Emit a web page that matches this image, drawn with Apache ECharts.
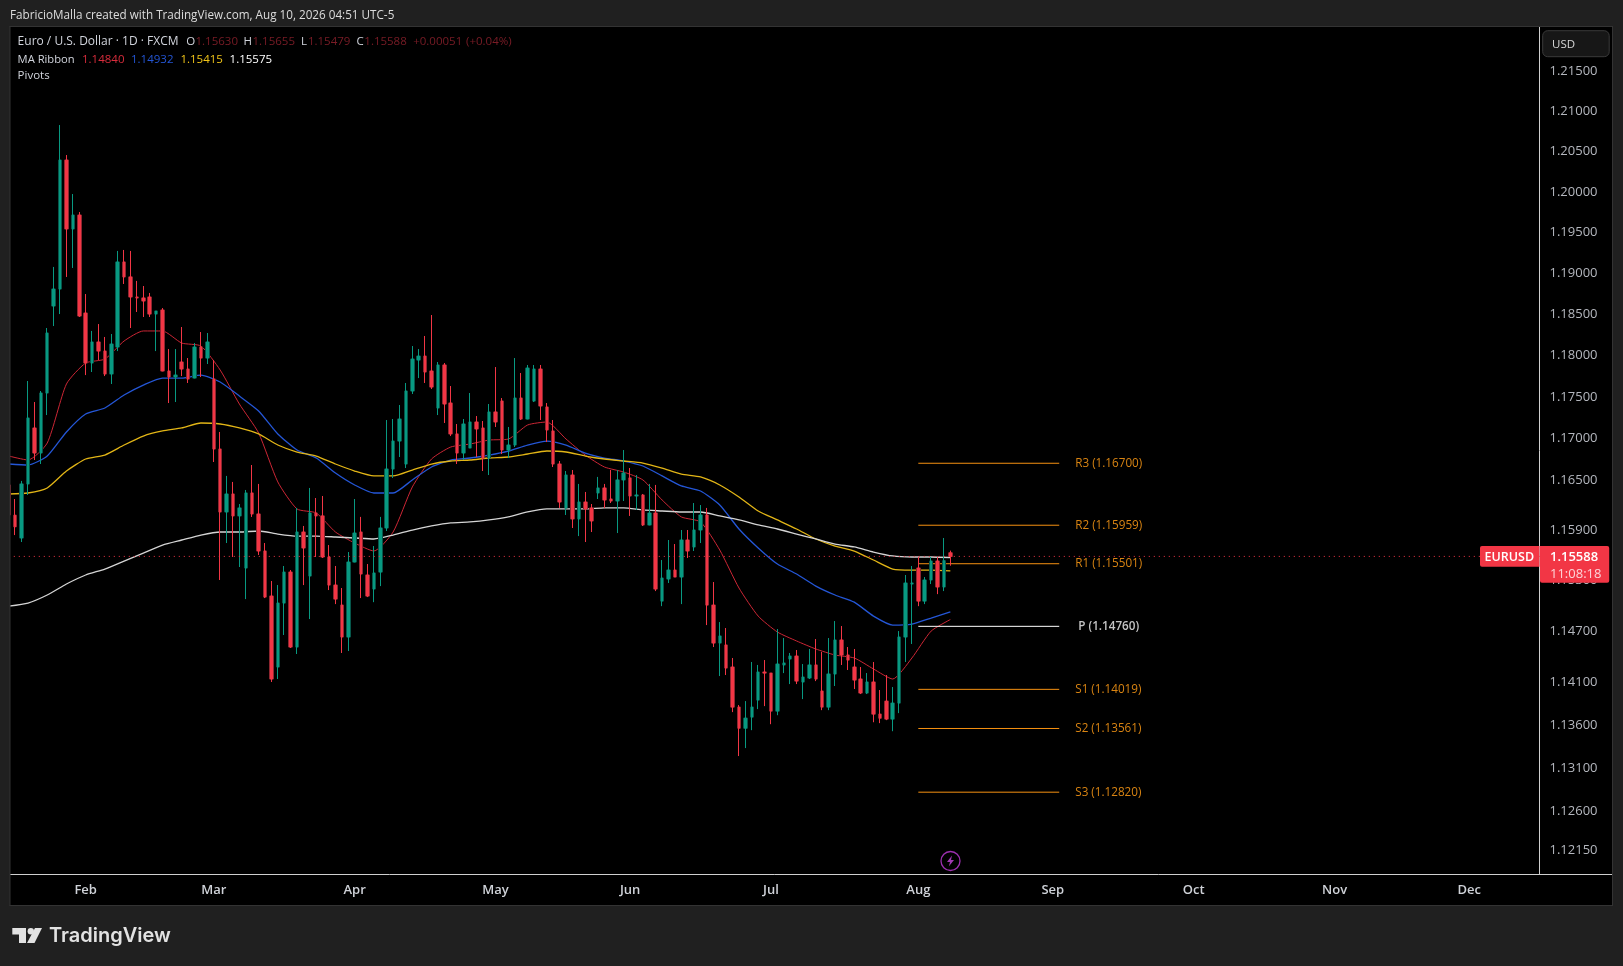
<!DOCTYPE html>
<html><head><meta charset="utf-8">
<style>html,body{margin:0;padding:0;background:#202020;overflow:hidden}#c{width:1623px;height:966px}</style>
<script src="https://cdn.jsdelivr.net/npm/echarts@6/dist/echarts.min.js"></script>
</head><body><div id="c"></div>
<script>
const opens=[1.16440,1.16078,1.15807,1.16452,1.17124,1.16823,1.17546,1.18602,1.18809,1.20395,
1.19545,1.19716,1.18516,1.17909,1.18164,1.18054,1.17776,1.18103,1.19140,1.18957,
1.18712,1.18700,1.18712,1.18504,1.18553,1.17812,1.17739,1.17921,1.17836,1.17727,
1.18103,1.17969,1.17715,1.16871,1.16117,1.16332,1.16070,1.15450,1.16344,1.16093,
1.15652,1.15118,1.14281,1.15035,1.15402,1.14516,1.15878,1.15355,1.16105,1.16070,
1.15581,1.15248,1.15011,1.14634,1.15521,1.15878,1.15367,1.15201,1.15402,1.15926,
1.16631,1.16967,1.16691,1.17570,1.17945,1.17993,1.17812,1.17365,1.17885,1.17425,
1.17052,1.16823,1.16883,1.17196,1.17124,1.16763,1.17317,1.17449,1.16859,1.16919,
1.17485,1.17232,1.17449,1.17836,1.17377,1.17088,1.16691,1.16165,1.16559,1.16034,
1.16236,1.16165,1.16344,1.16404,1.16272,1.16248,1.16500,1.16524,1.16308,1.16320,
1.15962,1.16105,1.15058,1.15320,1.15426,1.15343,1.15783,1.15700,1.15902,1.16081,
1.15011,1.14563,1.14540,1.14281,1.13811,1.13565,1.13694,1.13893,1.14222,1.14210,
1.13764,1.14305,1.14375,1.14410,1.14105,1.14152,1.14305,1.13999,1.13811,1.14199,
1.14599,1.14422,1.14281,1.14140,1.13976,1.14105,1.13729,1.13881,1.13671,1.13858,
1.14634,1.15260,1.15450,1.15058,1.15308,1.15533,1.15225,1.15630];
const closes=[1.16081,1.15941,1.16452,1.17244,1.16823,1.17546,1.18273,1.18809,1.20395,1.19545,
1.19716,1.18480,1.17909,1.18164,1.18054,1.17776,1.18139,1.19140,1.18957,1.18712,
1.18700,1.18663,1.18504,1.18541,1.17812,1.17739,1.17763,1.17836,1.17715,1.18103,
1.17969,1.18164,1.16871,1.16117,1.16332,1.16070,1.16165,1.16344,1.16093,1.15652,
1.15106,1.14140,1.15035,1.15402,1.14516,1.15878,1.15688,1.16105,1.16070,1.15581,
1.15248,1.15082,1.14634,1.15521,1.15866,1.15379,1.15118,1.15391,1.15926,1.16631,
1.16967,1.17232,1.17570,1.17957,1.17993,1.17800,1.17618,1.17885,1.17413,1.17052,
1.16823,1.17172,1.17196,1.17112,1.16763,1.17317,1.17196,1.16859,1.16919,1.17485,
1.17232,1.17848,1.17836,1.17389,1.17100,1.16691,1.16236,1.16559,1.16034,1.16236,
1.16153,1.16010,1.16404,1.16260,1.16248,1.16500,1.16583,1.16308,1.16320,1.15962,
1.16105,1.15201,1.15331,1.15426,1.15343,1.15783,1.15652,1.15902,1.16081,1.15011,
1.14563,1.14646,1.14269,1.13811,1.13565,1.13682,1.13811,1.14222,1.14210,1.13764,
1.14316,1.14328,1.14410,1.14116,1.14163,1.14305,1.14140,1.13811,1.14199,1.14599,
1.14422,1.14363,1.14128,1.13976,1.14105,1.13729,1.13682,1.13671,1.13858,1.14634,
1.15272,1.15272,1.15058,1.15308,1.15533,1.15225,1.15537,1.15588];
const lows=[1.16046,1.15842,1.15759,1.16320,1.16739,1.16691,1.17280,1.18358,1.18504,1.18957,
1.19067,1.18468,1.17763,1.17800,1.17945,1.17751,1.17655,1.18054,1.18871,1.18334,
1.18529,1.18468,1.18468,1.18054,1.17812,1.17425,1.17437,1.17751,1.17667,1.17727,
1.17739,1.17897,1.16715,1.15308,1.15747,1.15581,1.15462,1.15082,1.16058,1.15605,
1.15094,1.14105,1.14140,1.14658,1.14505,1.14434,1.15248,1.14846,1.15581,1.15569,
1.15189,1.15023,1.14446,1.14469,1.15521,1.15094,1.15106,1.15046,1.15236,1.15890,
1.16524,1.16775,1.16643,1.17534,1.17727,1.17667,1.17594,1.17280,1.17184,1.17027,
1.16691,1.16739,1.16883,1.16775,1.16607,1.16559,1.17136,1.16811,1.16763,1.16895,
1.17220,1.17232,1.17437,1.17220,1.16955,1.16655,1.16165,1.16081,1.15926,1.15830,
1.15759,1.15878,1.16272,1.16165,1.16224,1.15866,1.16248,1.16070,1.16141,1.15950,
1.15962,1.15177,1.14999,1.15272,1.15343,1.15023,1.15569,1.15652,1.15747,1.14775,
1.14516,1.14175,1.14187,1.13753,1.13240,1.13333,1.13542,1.13788,1.13823,1.13612,
1.13717,1.14210,1.14081,1.14081,1.13905,1.14140,1.14116,1.13776,1.13776,1.14058,
1.14305,1.14246,1.14023,1.13964,1.13964,1.13635,1.13624,1.13659,1.13530,1.13741,
1.14340,1.14552,1.14999,1.15023,1.15260,1.15141,1.15177,1.15479];
const highs=[1.16500,1.16272,1.16488,1.17691,1.17437,1.17570,1.18334,1.19079,1.20829,1.20457,
1.19975,1.19753,1.18748,1.18298,1.18382,1.18225,1.18261,1.19275,1.19287,1.19275,
1.18908,1.18846,1.18761,1.18541,1.18577,1.18078,1.18078,1.18346,1.17969,1.18151,
1.18285,1.18273,1.17945,1.17076,1.16548,1.16476,1.16212,1.16380,1.16679,1.16452,
1.15747,1.15296,1.15248,1.15474,1.15426,1.16165,1.15950,1.16404,1.16284,1.16308,
1.15723,1.15474,1.15213,1.15640,1.16272,1.16058,1.15497,1.15711,1.16058,1.17220,
1.17232,1.17401,1.17667,1.18115,1.18078,1.18237,1.18492,1.17921,1.17909,1.17630,
1.17172,1.17232,1.17546,1.17268,1.17208,1.17413,1.17860,1.17485,1.17136,1.17969,
1.17788,1.17885,1.17885,1.17885,1.17425,1.17220,1.16727,1.16607,1.16619,1.16452,
1.16356,1.16212,1.16536,1.16452,1.16619,1.16619,1.16859,1.16643,1.16559,1.16332,
1.16452,1.16440,1.15545,1.15783,1.15735,1.15902,1.15902,1.16224,1.16200,1.16165,
1.15284,1.14810,1.14740,1.14387,1.13835,1.13881,1.14340,1.14305,1.14363,1.14210,
1.14728,1.14622,1.14446,1.14481,1.14316,1.14493,1.14610,1.14458,1.14622,1.14822,
1.14763,1.14516,1.14493,1.14281,1.14210,1.14340,1.14011,1.14187,1.14046,1.14704,
1.15367,1.15474,1.15581,1.15343,1.15581,1.15581,1.15807,1.15655];

// Moving-average ribbon, read every third session (index = position in maSessions)
const maSessions=[0,3,6,9,12,15,18,21,24,27,30,33,36,39,42,45,48,51,54,57,60,63,66,69,72,75,78,81,84,87,90,93,96,99,102,105,108,111,114,117,120,123,126,129,132,135,138,141,144,147];
const maRed=[1.16787,1.16739,1.16943,1.17655,1.17909,1.17957,1.18176,1.18298,1.18298,1.18151,1.18115,1.17824,1.17413,1.17064,1.16476,1.16153,1.16105,1.15878,1.15747,1.15652,1.15878,1.16416,1.16751,1.16895,1.16931,1.16979,1.16991,1.17160,1.17196,1.16991,1.16799,1.16655,1.16595,1.16500,1.16260,1.16058,1.15998,1.15664,1.15213,1.14881,1.14693,1.14587,1.14493,1.14422,1.14387,1.14258,1.14140,1.14387,1.14704,1.14840];
const maBlue=[1.16691,1.16679,1.16787,1.17076,1.17292,1.17365,1.17522,1.17642,1.17727,1.17727,1.17763,1.17679,1.17509,1.17329,1.17052,1.16859,1.16763,1.16583,1.16440,1.16344,1.16344,1.16500,1.16655,1.16739,1.16763,1.16799,1.16847,1.16919,1.16967,1.16919,1.16823,1.16763,1.16727,1.16667,1.16548,1.16428,1.16368,1.16200,1.15914,1.15688,1.15497,1.15379,1.15236,1.15130,1.15046,1.14881,1.14775,1.14787,1.14858,1.14932];
const maYellow=[1.16332,1.16344,1.16404,1.16607,1.16751,1.16799,1.16919,1.17027,1.17088,1.17124,1.17184,1.17172,1.17124,1.17052,1.16919,1.16835,1.16787,1.16691,1.16607,1.16548,1.16548,1.16619,1.16691,1.16727,1.16739,1.16763,1.16775,1.16811,1.16847,1.16835,1.16787,1.16751,1.16727,1.16703,1.16643,1.16571,1.16536,1.16440,1.16296,1.16129,1.16022,1.15914,1.15795,1.15711,1.15652,1.15545,1.15438,1.15426,1.15426,1.15415];
const maWhite=[1.14999,1.15035,1.15130,1.15260,1.15367,1.15438,1.15533,1.15628,1.15723,1.15783,1.15842,1.15878,1.15878,1.15890,1.15854,1.15830,1.15830,1.15819,1.15807,1.15795,1.15842,1.15902,1.15950,1.15986,1.15998,1.16022,1.16058,1.16117,1.16153,1.16153,1.16153,1.16165,1.16165,1.16141,1.16129,1.16117,1.16117,1.16070,1.16022,1.15962,1.15914,1.15854,1.15795,1.15735,1.15700,1.15640,1.15593,1.15581,1.15581,1.15575];

const pivotNames=['R3','R2','R1','P','S1','S2','S3'];
const pivotValues=[1.16700,1.15959,1.15501,1.14760,1.14019,1.13561,1.12820];
const pivotFrom='2026-08-03', pivotTo='2026-09-02';

const yTicks=[1.215,1.21,1.205,1.2,1.195,1.19,1.185,1.18,1.175,1.17,1.165,1.159,1.153,1.147,1.141,1.136,1.131,1.126,1.1215];
const monthStarts=['2026-02-02','2026-03-02','2026-04-01','2026-05-01','2026-06-01','2026-07-01','2026-08-03','2026-09-01','2026-10-01','2026-11-02','2026-12-01'];
const monthLabels=['Feb','Mar','Apr','May','Jun','Jul','Aug','Sep','Oct','Nov','Dec'];
const lastClose=1.15588;

// sessions (Mon-Fri) on the category axis
const sessions=[];
for(let t=Date.UTC(2026,0,15);sessions.length<240;t+=864e5){const d=new Date(t);if(d.getUTCDay()%6)sessions.push(d.toISOString().slice(0,10));}

const candles=opens.map((o,i)=>[o,closes[i],lows[i],highs[i]]);
const maData=a=>maSessions.map((s,j)=>[sessions[s],a[j]]);
const F='"Open Sans","Noto Sans",sans-serif';
const PANEL='#202020', UP='#089981', DOWN='#f23645', UPD='#07574b', DOWND='#8e2630';

const maLine=(name,a,color,w)=>({name,type:'line',data:maData(a),symbol:'none',smooth:0.2,z:1,silent:true,
  lineStyle:{color,width:w},animation:false});
const pivotLine=(n,i)=>{const v=pivotValues[i],isP=n==='P';return {name:'Pivot '+n,type:'line',z:1,symbol:'none',silent:true,animation:false,
  data:[[pivotFrom,v],[pivotTo,v]],lineStyle:{color:isP?'#ffffff':'#f59011',width:1},
  endLabel:{show:true,formatter:n+' ('+v.toFixed(5)+')',color:isP?'#c4c4c4':'#d98412',distance:isP?19:16,fontFamily:F,fontSize:11.7,fontWeight:isP?600:400}};};

const txt=(x,y,text,fill,font,align)=>({type:'text',silent:true,style:{x,y,text,fill,font:font||('11.5px '+F),textAlign:align||'left',textVerticalAlign:'middle',verticalAlign:'middle'}});
const rect=(x,y,w,h,fill,extra)=>({type:'rect',silent:true,shape:Object.assign({x,y,width:w,height:h},extra||{}),style:{fill}});

const overlay=[
    rect(0,0,1623,26,PANEL),rect(0,905,1623,61,PANEL),rect(0,0,10,966,PANEL),rect(1612,0,11,966,PANEL),
    rect(9.5,26,1603,1,'#333'),rect(9.5,905,1603,1,'#333'),rect(9.5,26,1,880,'#333'),rect(1612,26,1,880,'#333'),
    rect(1540,874,72,1,'#cfcfcf'),
    txt(10,15.5,'FabricioMalla created with TradingView.com, Aug 10, 2026 04:51 UTC-5','#dcdcdc','11.7px '+F),
    txt(17.6,42,'Euro / U.S. Dollar · 1D · FXCM','#d1d4dc','12px '+F),
    txt(186.3,42,'O','#d1d4dc'),txt(195.5,42,'1.15630','#7a1c26'),
    txt(243.6,42,'H','#d1d4dc'),txt(252.5,42,'1.15655','#7a1c26'),
    txt(301,42,'L','#d1d4dc'),txt(307.9,42,'1.15479','#7a1c26'),
    txt(356.4,42,'C','#d1d4dc'),txt(364.3,42,'1.15588','#7a1c26'),
    txt(413.2,42,'+0.00051','#7a1c26'),txt(466,42,'(+0.04%)','#7a1c26'),
    txt(17.6,59.5,'MA Ribbon','#d1d4dc','11.2px '+F),txt(82,59.5,'1.14840','#d82c3c'),txt(131,59.5,'1.14932','#2456d6'),
    txt(180.4,59.5,'1.15415','#f2c518'),txt(229.6,59.5,'1.15575','#ffffff'),
    txt(17.6,76,'Pivots','#d1d4dc'),
    {type:'rect',shape:{x:1542.7,y:30.7,width:66.5,height:26,r:5},style:{fill:'#171717',stroke:'#3a3a3a',lineWidth:1}},
    txt(1552,44.5,'USD','#d8d8d8','11.5px '+F),
    rect(1480,546,59.5,20.7,DOWN,{r:[2,0,0,2]}),
    rect(1540,546,69.2,36.7,DOWN,{r:[0,2,2,2]}),
    txt(1484.5,557,'EURUSD','#ffffff','600 12.5px '+F),
    txt(1550,557,'1.15588','#ffffff','600 13px '+F),
    txt(1550,574,'11:08:18','#fcd4d8','13px '+F),
    {type:'circle',shape:{cx:950.5,cy:861,r:9.5},style:{fill:'none',stroke:'#9b2fae',lineWidth:1.3}},
    {type:'polygon',shape:{points:[[952,855.5],[947,862],[950,862],[948.8,866.5],[954,860],[951,860]]},style:{fill:'#a33bb5'}},
    {type:'polygon',shape:{points:[[12.3,928],[26,928],[26,943],[19,943],[19,934.5],[12.3,934.5]]},style:{fill:'#e2e2e2'}},
    {type:'circle',shape:{cx:30.8,cy:931.2,r:3.2},style:{fill:'#e2e2e2'}},
    {type:'polygon',shape:{points:[[35,928],[42,928],[34.5,943],[27,943]]},style:{fill:'#e2e2e2'}},
    txt(49,936,'TradingView','#e2e2e2','600 20px Inter,'+F)
];
overlay.forEach(e=>{e.z=100;e.silent=true;});

const chart=echarts.init(document.getElementById('c'),null,{renderer:'canvas'});
chart.setOption({
  animation:false,backgroundColor:'#000',
  grid:{left:5.6,top:27,width:1537.2,height:847,containLabel:false},
  xAxis:{type:'category',data:sessions,boundaryGap:true,
    axisLine:{lineStyle:{color:'#cfcfcf',width:1}},axisTick:{show:false},splitLine:{show:false},
    axisLabel:{interval:(i,v)=>monthStarts.includes(v),formatter:v=>monthLabels[monthStarts.indexOf(v)]||'',
      color:'#cfd2d8',fontFamily:F,fontSize:13,fontWeight:600,margin:10,hideOverlap:false}},
  yAxis:{type:'log',logBase:10,position:'right',offset:-3.3,min:1.11875,max:1.22053,scale:true,
    axisLine:{show:true,lineStyle:{color:'#cfcfcf',width:1}},axisTick:{show:false},splitLine:{show:false},minorSplitLine:{show:false},
    axisLabel:{customValues:yTicks,formatter:v=>(+v).toFixed(5),color:'#b4b7be',fontFamily:F,fontSize:13,margin:10,padding:[2,0,0,0],inside:false}},
  tooltip:{show:false},legend:{show:false},
  series:[
    maLine('MA Ribbon 1',maRed,'#cc2635',1),
    maLine('MA Ribbon 2',maBlue,'#2456d6',1.3),
    maLine('MA Ribbon 3',maYellow,'#e2b516',1.3),
    maLine('MA Ribbon 4',maWhite,'#d4d4d4',1.3),
    ...pivotNames.map(pivotLine),
    {name:'EURUSD',type:'candlestick',z:3,data:candles,barWidth:4,silent:true,animation:false,
      itemStyle:{color:UP,color0:DOWN,borderColor:UPD,borderColor0:DOWND,borderColorDoji:UPD,borderWidth:1}},
    {name:'EURUSD wicks',type:'candlestick',z:4,data:candles,barWidth:2,silent:true,animation:false,
      itemStyle:{color:UP,color0:DOWN,borderColor:UP,borderColor0:DOWN,borderColorDoji:UP,borderWidth:1}},
    {name:'Last price',type:'line',z:5,symbol:'none',silent:true,animation:false,
      data:[[sessions[0],lastClose],[sessions[sessions.length-1],lastClose]],
      lineStyle:{color:DOWN,type:[1,4],width:1}}
  ],
  graphic:{elements:overlay}
});
</script></body></html>
